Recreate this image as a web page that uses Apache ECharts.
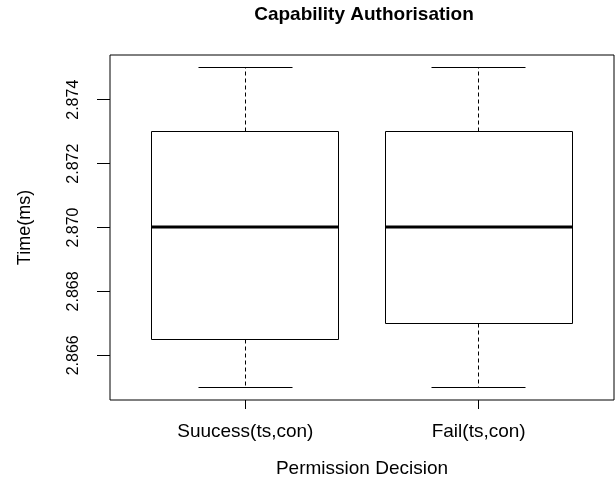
<!DOCTYPE html>
<html>
<head>
<meta charset="utf-8">
<script src="https://cdn.jsdelivr.net/npm/echarts@6/dist/echarts.min.js"></script>
<style>
html,body{margin:0;padding:0;background:#fff;}
#chart{width:615px;height:483px;}
</style>
</head>
<body>
<div id="chart"></div>
<script>
// ---- data ----
const categories = ['Suucess(ts,con)', 'Fail(ts,con)'];
const whiskerLow = [2.865, 2.865];
const q1 = [2.8665, 2.867];
const median = [2.870, 2.870];
const q3 = [2.873, 2.873];
const whiskerHigh = [2.875, 2.875];
const yTicks = [2.866, 2.868, 2.870, 2.872, 2.874];
const chartTitle = 'Capability Authorisation';
const xTitle = 'Permission Decision';
const yTitle = 'Time(ms)';

const xPositions = categories.map((_, i) => i + 1);
const boxData = categories.map((_, i) => [xPositions[i], whiskerLow[i], q1[i], median[i], q3[i], whiskerHigh[i]]);

const FONT = '"Liberation Sans", Arial, Helvetica, sans-serif';
const chart = echarts.init(document.getElementById('chart'));

function crisp(v) { return Math.round(v - 0.5) + 0.5; }

function renderItem(params, api) {
  const x = api.value(0);
  const pLow = api.coord([x, api.value(1)]);
  const pQ1 = api.coord([x, api.value(2)]);
  const pMed = api.coord([x, api.value(3)]);
  const pQ3 = api.coord([x, api.value(4)]);
  const pHigh = api.coord([x, api.value(5)]);
  const halfBox = api.size([0.4, 0])[0];
  const halfCap = api.size([0.2, 0])[0];
  const cx = crisp(pQ1[0]);
  const stroke = '#000';
  const yL = crisp(pLow[1]), y1 = crisp(pQ1[1]), yM = Math.round(pMed[1]), y3 = crisp(pQ3[1]), yH = crisp(pHigh[1]);
  const xl = crisp(pQ1[0] - halfBox), xr = crisp(pQ1[0] + halfBox);
  return {
    type: 'group',
    children: [
      { type: 'line', shape: { x1: cx, y1: y3, x2: cx, y2: yH }, style: { stroke, lineWidth: 1, lineDash: [4, 3] } },
      { type: 'line', shape: { x1: cx, y1: y1, x2: cx, y2: yL }, style: { stroke, lineWidth: 1, lineDash: [4, 3] } },
      { type: 'line', shape: { x1: crisp(pHigh[0] - halfCap), y1: yH, x2: crisp(pHigh[0] + halfCap), y2: yH }, style: { stroke, lineWidth: 1 } },
      { type: 'line', shape: { x1: crisp(pLow[0] - halfCap), y1: yL, x2: crisp(pLow[0] + halfCap), y2: yL }, style: { stroke, lineWidth: 1 } },
      { type: 'rect', shape: { x: xl, y: y3, width: xr - xl, height: y1 - y3 }, style: { fill: '#fff', stroke, lineWidth: 1 } },
      { type: 'line', shape: { x1: xl, y1: yM, x2: xr, y2: yM }, style: { stroke, lineWidth: 3 } }
    ]
  };
}

const option = {
  animation: false,
  backgroundColor: '#fff',
  graphic: [{
    type: 'text',
    x: 364,
    y: 15,
    style: {
      text: chartTitle,
      font: 'bold 19px ' + FONT,
      fill: '#000',
      align: 'center',
      verticalAlign: 'middle',
      textAlign: 'center',
      textVerticalAlign: 'middle'
    }
  }],
  grid: {
    left: 110, right: 1, top: 55, bottom: 82,
    show: true, borderColor: '#000', borderWidth: 1, backgroundColor: 'transparent',
    containLabel: false
  },
  xAxis: {
    type: 'value',
    min: 0.42, max: 2.58,
    axisLine: { show: false },
    splitLine: { show: false },
    axisTick: { show: true, customValues: xPositions, length: 9, lineStyle: { color: '#000', width: 1 } },
    axisLabel: {
      customValues: xPositions,
      formatter: v => categories[Math.round(v) - 1],
      margin: 22, fontSize: 19, fontFamily: FONT, color: '#000'
    },
    name: xTitle, nameLocation: 'middle', nameGap: 59,
    nameTextStyle: { fontSize: 19, fontFamily: FONT, color: '#000' }
  },
  yAxis: {
    type: 'value',
    min: 2.8646, max: 2.8754,
    axisLine: { show: false },
    splitLine: { show: false },
    axisTick: { show: true, customValues: yTicks, length: 13, lineStyle: { color: '#000', width: 1 } },
    axisLabel: {
      customValues: yTicks,
      rotate: 90,
      formatter: v => v.toFixed(3),
      margin: 28, fontSize: 16, fontFamily: FONT, color: '#000'
    },
    name: yTitle, nameLocation: 'middle', nameGap: 76, nameRotate: 90,
    nameTextStyle: { fontSize: 18, fontFamily: FONT, color: '#000' }
  },
  series: [{
    type: 'custom',
    renderItem: renderItem,
    encode: { x: 0, y: [1, 2, 3, 4, 5] },
    data: boxData,
    clip: false
  }]
};
chart.setOption(option);
</script>
</body>
</html>
